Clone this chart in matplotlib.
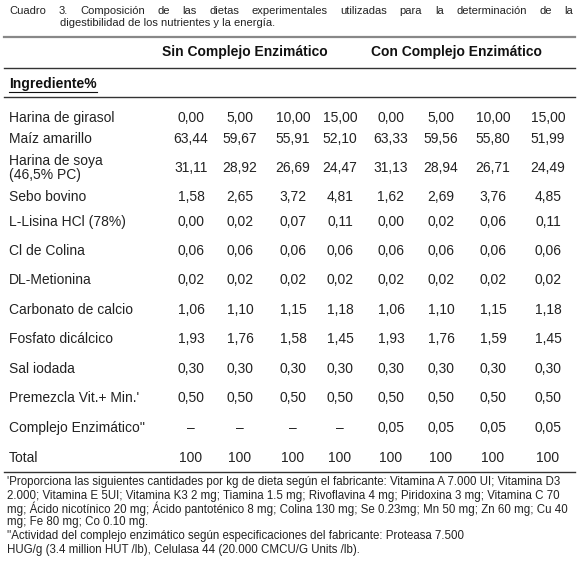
import matplotlib
matplotlib.use("Agg")
import matplotlib.pyplot as plt
from matplotlib.lines import Line2D

plt.rcParams['font.family'] = ['Liberation Sans', 'DejaVu Sans']

title1 = "Cuadro 3. Composición de las dietas experimentales utilizadas para la determinación de la"
title2 = "digestibilidad de los nutrientes y la energía."
groups = ["Sin Complejo Enzimático", "Con Complejo Enzimático"]
ingredients = ["Harina de girasol", "Maíz amarillo", "Harina de soya\n(46,5% PC)", "Sebo bovino",
               "L-Lisina HCl (78%)", "Cl de Colina", "DL-Metionina", "Carbonato de calcio",
               "Fosfato dicálcico", "Sal iodada", "Premezcla Vit.+ Min.'", "Complejo Enzimático''", "Total"]
values = [
    ["0,00", "5,00", "10,00", "15,00", "0,00", "5,00", "10,00", "15,00"],
    ["63,44", "59,67", "55,91", "52,10", "63,33", "59,56", "55,80", "51,99"],
    ["31,11", "28,92", "26,69", "24,47", "31,13", "28,94", "26,71", "24,49"],
    ["1,58", "2,65", "3,72", "4,81", "1,62", "2,69", "3,76", "4,85"],
    ["0,00", "0,02", "0,07", "0,11", "0,00", "0,02", "0,06", "0,11"],
    ["0,06", "0,06", "0,06", "0,06", "0,06", "0,06", "0,06", "0,06"],
    ["0,02", "0,02", "0,02", "0,02", "0,02", "0,02", "0,02", "0,02"],
    ["1,06", "1,10", "1,15", "1,18", "1,06", "1,10", "1,15", "1,18"],
    ["1,93", "1,76", "1,58", "1,45", "1,93", "1,76", "1,59", "1,45"],
    ["0,30", "0,30", "0,30", "0,30", "0,30", "0,30", "0,30", "0,30"],
    ["0,50", "0,50", "0,50", "0,50", "0,50", "0,50", "0,50", "0,50"],
    ["–", "–", "–", "–", "0,05", "0,05", "0,05", "0,05"],
    ["100", "100", "100", "100", "100", "100", "100", "100"],
]
footnotes = [
    "'Proporciona las siguientes cantidades por kg de dieta según el fabricante: Vitamina A 7.000 UI; Vitamina D3",
    "2.000; Vitamina E 5UI; Vitamina K3 2 mg; Tiamina 1.5 mg; Rivoflavina 4 mg; Piridoxina 3 mg; Vitamina C 70",
    "mg; Ácido nicotínico 20 mg; Ácido pantoténico 8 mg; Colina 130 mg; Se 0.23mg; Mn 50 mg; Zn 60 mg; Cu 40",
    "mg; Fe 80 mg; Co 0.10 mg.",
    "''Actividad del complejo enzimático según especificaciones del fabricante: Proteasa 7.500",
    "HUG/g (3.4 million HUT /lb), Celulasa 44 (20.000 CMCU/G Units /lb).",
]

W, H = 578, 570
fig = plt.figure(figsize=(W/100, H/100), dpi=100)
fig.patch.set_facecolor('white')
def T(x, y, s, **kw):
    kw.setdefault('fontsize', 10); kw.setdefault('color', '#222222')
    kw.setdefault('va', 'center')
    return fig.text(x/W, 1-y/H, s, **kw)
def L(y, lw=1.0, c='#333333'):
    fig.add_artist(Line2D([4/W, 575/W], [1-y/H, 1-y/H], lw=lw, color=c))

# justified first title line
renderer = fig.canvas.get_renderer()
words = title1.split(" ")
arts = [T(0, 11, w, fontsize=8) for w in words]
widths = [a.get_window_extent(renderer).width for a in arts]
x0, x1 = 9, 573
gap = (x1 - x0 - sum(widths)) / (len(words) - 1)
x = x0
for a, w in zip(arts, widths):
    a.set_x(x / W)
    x += w + gap
T(60, 23, title2, fontsize=8)
L(37, lw=1.6, c='#888888')
T(245, 52, groups[0], ha='center', fontsize=10, fontweight='bold', color='#111111')
T(456, 52, groups[1], ha='center', fontsize=10, fontweight='bold', color='#111111')
L(68)
T(9, 84, "Ingrediente%", fontsize=10, fontweight='bold', color='#111111')
fig.add_artist(Line2D([9/W, 97/W], [1-92/H, 1-92/H], lw=0.8, color='#111111'))
L(97)
cols = [191, 240, 293, 340, 391, 441, 493, 548]
rows = [118, 139, 168, 197, 222, 251, 280, 310, 339, 369, 398, 428, 458]
for name, y, vals in zip(ingredients, rows, values):
    T(9, y, name, linespacing=0.95)
    for xc, v in zip(cols, vals):
        T(xc, y, v, ha='center')
L(472)
for i, s in enumerate(footnotes):
    T(7, 482 + i*13.5, s, fontsize=8.3)
fig.savefig("out.png", dpi=100, facecolor='white')
